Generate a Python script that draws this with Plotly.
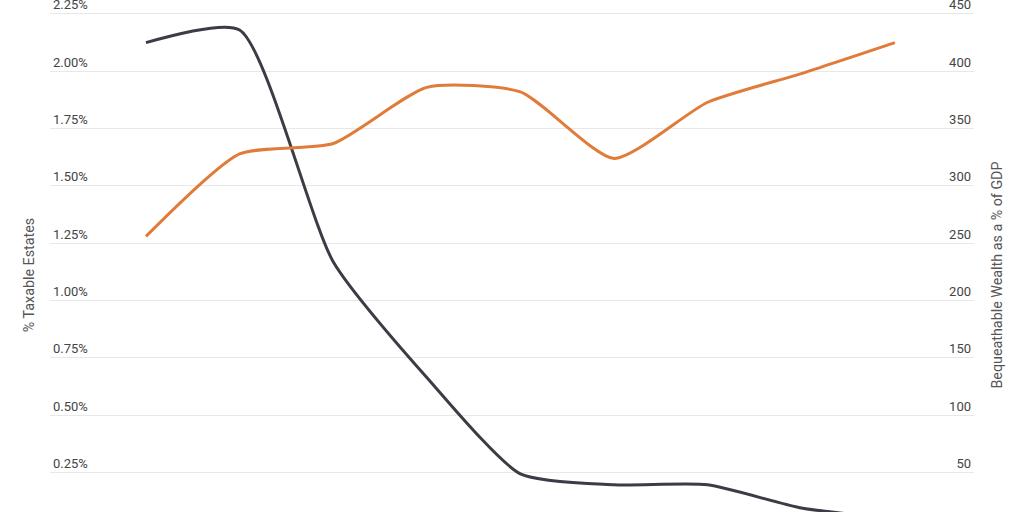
import plotly.graph_objects as go

years = [2000, 2002, 2004, 2006, 2008, 2010, 2012, 2014, 2016]
taxable_estates_pct = [2.125, 2.18, 1.17, 0.665, 0.245, 0.197, 0.197, 0.096, 0.05]
bequeathable_wealth_gdp = [256, 328, 337, 386, 382, 324, 373, 398, 425]

left_ticks = [0.25, 0.5, 0.75, 1.0, 1.25, 1.5, 1.75, 2.0, 2.25]
right_ticks = [50, 100, 150, 200, 250, 300, 350, 400, 450]

dark = "#3d3c46"
orange = "#e07b39"
txt = "#555555"
grid = "#e8e8e8"

fig = go.Figure()
fig.add_trace(go.Scatter(
    x=years, y=taxable_estates_pct, mode="lines", name="% Taxable Estates",
    line=dict(color=dark, width=3, shape="spline", smoothing=0.6), yaxis="y"))
fig.add_trace(go.Scatter(
    x=years, y=bequeathable_wealth_gdp, mode="lines", name="Bequeathable Wealth as a % of GDP",
    line=dict(color=orange, width=3, shape="spline", smoothing=0.6), yaxis="y2"))

fig.update_layout(
    width=1024, height=590,
    margin=dict(l=50, r=50, t=0, b=0),
    plot_bgcolor="white", paper_bgcolor="white",
    showlegend=False, hovermode=False,
    font=dict(family="Roboto", size=13, color=txt),
    xaxis=dict(visible=False, range=[1997.95, 2017.69]),
    yaxis=dict(
        range=[-0.1744, 2.398], tickvals=left_ticks,
        ticktext=[f"{v:.2f}%" for v in left_ticks],
        ticklabelposition="inside top", showgrid=True, gridcolor=grid, gridwidth=1,
        zeroline=False, showline=False, ticks="",
        title=dict(text="% Taxable Estates", standoff=14, font=dict(size=14.3, color=txt)),
    ),
    yaxis2=dict(
        range=[-34.88, 479.6], tickvals=right_ticks,
        ticktext=[str(v) for v in right_ticks],
        overlaying="y", side="right",
        ticklabelposition="inside top", showgrid=False,
        zeroline=False, showline=False, ticks="",
        title=dict(text="Bequeathable Wealth as a % of GDP", standoff=21, font=dict(size=14.3, color=txt)),
    ),
)

fig.write_html(
    "out.html",
    config={"displayModeBar": False},
    post_script="document.body.style.margin='0';document.body.style.marginTop='-20px';document.body.style.overflow='hidden';document.documentElement.style.overflow='hidden';",
)
